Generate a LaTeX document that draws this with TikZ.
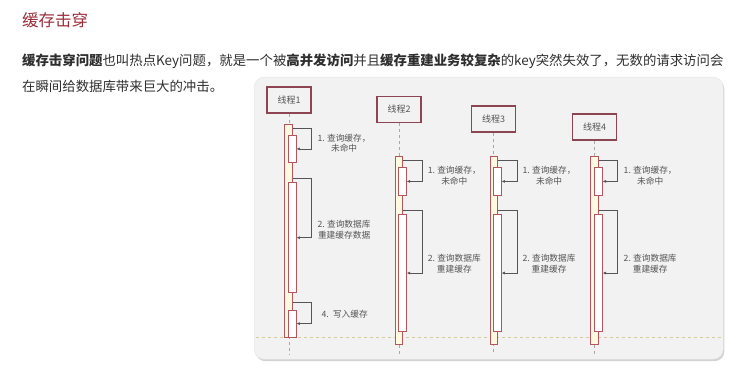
\documentclass[tikz,border=0pt]{standalone}
\usepackage{fontspec}
\setmainfont{Noto Sans CJK SC}
\usetikzlibrary{positioning}
\usetikzlibrary{calc}
\usetikzlibrary{shadows}
\usetikzlibrary{arrows.meta}

\definecolor{titlered}{HTML}{9B2C3A}
\definecolor{bodytext}{HTML}{2E2E2E}
\definecolor{panelgray}{HTML}{F2F2F2}
\definecolor{boxred}{HTML}{8E4553}
\definecolor{barred}{HTML}{B5565F}
\definecolor{barfill}{HTML}{FFF9DF}
\definecolor{msggray}{HTML}{555555}
\definecolor{lifegray}{HTML}{A8A8A8}
\definecolor{tanline}{HTML}{D6CB9E}

\newcommand{\stepno}[1]{\makebox[9.5pt][l]{#1}}

\begin{document}
\begin{tikzpicture}[
        % pixel-like units, y downwards
        x=1pt, y=-1pt, >={Latex[length=3.5pt,width=3pt]},
        headline/.style={anchor=west, inner sep=0pt, text=titlered,
            font=\fontsize{16.5}{18}\selectfont},
        bodyline/.style={anchor=west, inner sep=0pt, text=bodytext,
            font=\fontsize{13.4}{16}\selectfont},
        panel/.style={
            fill=panelgray, draw=gray!20, rounded corners=10pt,
            anchor=north west, inner sep=0pt,
            drop shadow={shadow xshift=1.2pt, shadow yshift=-2pt, opacity=0.35}
        },
        threadbox/.style={
            draw=boxred, line width=1.1pt, fill=panelgray,
            minimum width=44pt, minimum height=26pt, inner sep=0pt,
            text=msggray, font=\fontsize{9}{10}\selectfont
        },
        outerbar/.style={
            draw=barred, line width=0.8pt, fill=barfill,
            minimum width=7.6pt, inner sep=0pt, anchor=north
        },
        innerbar/.style={
            draw=barred, line width=0.8pt, fill=white,
            minimum width=7.6pt, inner sep=0pt, anchor=north
        },
        lifeline/.style={draw=lifegray, dashed, line width=0.6pt},
        dashline/.style={draw=tanline, dashed, line width=0.6pt},
        msg/.style={draw=msggray, line width=0.8pt, ->},
        msglabel/.style={anchor=west, inner sep=0pt, align=center, text=msggray,
            font=\fontsize{8.7}{10.5}\selectfont}
        ]

        \useasboundingbox (0,0) rectangle (750,369);

        % heading and text
        \node [headline] (title) at (22,20) {缓存击穿};
        \node [bodyline] (line1) at (22,61) {\textbf{缓存击穿问题}也叫热点Key问题，就是一个被\textbf{高并发访问}并且\textbf{缓存重建业务较复杂}的key突然失效了，无数的请求访问会};
        \node [bodyline] (line2) at (22,86.5) {在瞬间给数据库带来巨大的冲击。};

        % diagram panel
        \node [panel, minimum width=469pt, minimum height=282pt] (panel) at (254,77) {};
        \coordinate (dl) at (256,337);
        \coordinate (dr) at (721,337);
        \draw [dashline] (dl) -- (dr);

        % threads
        \node [threadbox] (thread1) at (289,100) {线程1};
        \node [threadbox] (thread2) at (399,109.5) {线程2};
        \node [threadbox] (thread3) at (493.5,119) {线程3};
        \node [threadbox] (thread4) at (594.5,127) {线程4};

        \coordinate (end1) at (289,354);
        \coordinate (end2) at (399,354);
        \coordinate (end3) at (493.5,354);
        \coordinate (end4) at (594.5,354);
        \draw [lifeline] (thread1) -- (end1);
        \draw [lifeline] (thread2) -- (end2);
        \draw [lifeline] (thread3) -- (end3);
        \draw [lifeline] (thread4) -- (end4);

        % thread 1
        \node [outerbar, minimum height=213pt] (act1) at (288.5,124) {};
        \node [innerbar, minimum height=27pt] (in1a) at (292.2,135) {};
        \node [innerbar, minimum height=110pt] (in1b) at (292.2,182.3) {};
        \node [innerbar, minimum height=27pt] (in1c) at (292.2,309.7) {};
        \draw [msg] ($(act1.east |- in1a.north)+(0,-7)$) -- ++(19,0) |- (in1a.east);
        \draw [msg] ($(act1.east |- in1b.north)+(0,-4)$) -- ++(19,0) |- (in1b.east);
        \draw [msg] ($(act1.east |- in1c.north)+(0,-7)$) -- ++(19,0) |- (in1c.east);
        \node [msglabel] (lab1a) at ([xshift=21pt,yshift=5.5pt]in1a.east) {\stepno{1.}查询缓存，\\未命中};
        \node [msglabel] (lab1b) at ([xshift=21pt,yshift=8pt]in1b.east) {\stepno{2.}查询数据库\\重建缓存数据};
        \node [msglabel] (lab1c) at ([xshift=25pt,yshift=9pt]in1c.east) {\stepno{4.}\ 写入缓存};

        % thread 2
        \node [outerbar, minimum height=188pt] (act2) at (399,155.5) {};
        \node [innerbar, minimum height=27.4pt] (in2a) at (402.4,167.3) {};
        \node [innerbar, minimum height=116.7pt] (in2b) at (402.4,214.3) {};
        \draw [msg] ($(act2.east |- in2a.north)+(0,-7)$) -- ++(19,0) |- (in2a.east);
        \draw [msg] ($(act2.east |- in2b.north)+(0,-4)$) -- ++(19,0) |- (in2b.east);
        \node [msglabel] (lab2a) at ([xshift=21pt,yshift=5.5pt]in2a.east) {\stepno{1.}查询缓存，\\未命中};
        \node [msglabel] (lab2b) at ([xshift=21pt,yshift=9.5pt]in2b.east) {\stepno{2.}查询数据库\\重建缓存};

        % thread 3
        \node [outerbar, minimum height=188pt] (act3) at (493.7,155.5) {};
        \node [innerbar, minimum height=27.4pt] (in3a) at (497.2,167.3) {};
        \node [innerbar, minimum height=116.7pt] (in3b) at (497.2,214.3) {};
        \draw [msg] ($(act3.east |- in3a.north)+(0,-7)$) -- ++(19,0) |- (in3a.east);
        \draw [msg] ($(act3.east |- in3b.north)+(0,-4)$) -- ++(19,0) |- (in3b.east);
        \node [msglabel] (lab3a) at ([xshift=21pt,yshift=5.5pt]in3a.east) {\stepno{1.}查询缓存，\\未命中};
        \node [msglabel] (lab3b) at ([xshift=21pt,yshift=9.5pt]in3b.east) {\stepno{2.}查询数据库\\重建缓存};

        % thread 4
        \node [outerbar, minimum height=188pt] (act4) at (594.5,155.5) {};
        \node [innerbar, minimum height=27.4pt] (in4a) at (598.3,167.3) {};
        \node [innerbar, minimum height=116.7pt] (in4b) at (598.3,214.3) {};
        \draw [msg] ($(act4.east |- in4a.north)+(0,-7)$) -- ++(19,0) |- (in4a.east);
        \draw [msg] ($(act4.east |- in4b.north)+(0,-4)$) -- ++(19,0) |- (in4b.east);
        \node [msglabel] (lab4a) at ([xshift=21pt,yshift=5.5pt]in4a.east) {\stepno{1.}查询缓存，\\未命中};
        \node [msglabel] (lab4b) at ([xshift=21pt,yshift=9.5pt]in4b.east) {\stepno{2.}查询数据库\\重建缓存};
\end{tikzpicture}
\end{document}
